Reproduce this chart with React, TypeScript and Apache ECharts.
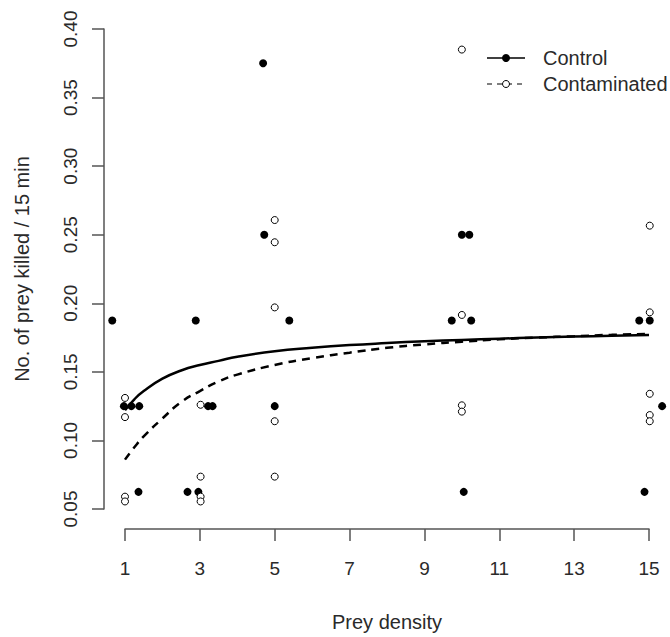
import React, { useEffect, useRef } from "react";
import * as echarts from "echarts";

// Scatter data
const controlX = [0.66, 0.97, 1.17, 1.38, 1.36, 2.67, 2.96, 2.89, 3.22, 3.34, 4.69, 4.72, 5.0, 5.39, 9.73, 10.0, 10.2, 10.25, 10.05, 14.74, 15.02, 15.35, 14.88];
const controlY = [0.1875, 0.125, 0.125, 0.125, 0.0625, 0.0625, 0.0625, 0.1875, 0.125, 0.125, 0.375, 0.25, 0.125, 0.1875, 0.1875, 0.25, 0.25, 0.1875, 0.0625, 0.1875, 0.1875, 0.125, 0.0625];

const contamX = [1.0, 1.0, 1.0, 1.0, 3.02, 3.02, 3.02, 3.02, 5.0, 5.0, 5.0, 5.0, 5.0, 10.0, 10.0, 10.0, 10.0, 15.02, 15.02, 15.02, 15.02, 15.02];
const contamY = [0.131, 0.117, 0.059, 0.0555, 0.126, 0.0736, 0.059, 0.0555, 0.2607, 0.2445, 0.197, 0.114, 0.0736, 0.385, 0.1915, 0.1256, 0.121, 0.2566, 0.1934, 0.134, 0.1185, 0.114];

// Fitted curves
const curveX = [1, 1.25, 1.5, 2, 2.5, 3, 3.5, 4, 5, 6, 7, 8, 9, 10, 11, 12, 13, 14, 15];
const controlCurve = [0.122, 0.13, 0.136, 0.145, 0.151, 0.155, 0.158, 0.161, 0.165, 0.1675, 0.1695, 0.171, 0.1723, 0.1733, 0.1742, 0.175, 0.1757, 0.1763, 0.1769];
const contamCurve = [0.086, 0.095, 0.103, 0.116, 0.128, 0.136, 0.143, 0.148, 0.155, 0.16, 0.164, 0.1675, 0.17, 0.172, 0.1737, 0.175, 0.176, 0.177, 0.1777];

const xTicks = { min: 1, max: 15, interval: 2 };
const yTicks = { min: 0.05, max: 0.4, interval: 0.05 };

const seriesNames = ["Control", "Contaminated"];
const yTitle = "No. of prey killed / 15 min";
const xTitle = "Prey density";

const FONT = "'Liberation Sans', Arial, sans-serif";
const TEXT = "#2a2a2a";
const AXIS = "#555";

export default function App() {
  const ref = useRef<HTMLDivElement>(null);
  useEffect(() => {
    document.body.style.margin = "0";
    const chart = echarts.init(ref.current!, null, { renderer: "svg" });
    const zip = (xs: number[], ys: number[]) => xs.map((x, i) => [x, ys[i]]);
    chart.setOption({
      animation: false,
      backgroundColor: "#fff",
      textStyle: { fontFamily: FONT },
      grid: { left: 125, right: 21, top: 29, bottom: 128 },
      xAxis: {
        type: "value",
        min: xTicks.min,
        max: xTicks.max,
        interval: xTicks.interval,
        offset: 20,
        axisLine: { show: true, lineStyle: { color: AXIS, width: 1.5 } },
        axisTick: { show: true, length: 12, lineStyle: { color: AXIS, width: 1.5 } },
        axisLabel: { margin: 30, fontSize: 19, color: TEXT, fontFamily: FONT },
        splitLine: { show: false },
        name: xTitle,
        nameLocation: "middle",
        nameGap: 83,
        nameTextStyle: { fontSize: 20, color: TEXT, fontFamily: FONT },
      },
      yAxis: {
        type: "value",
        min: yTicks.min,
        max: yTicks.max,
        interval: yTicks.interval,
        offset: 21,
        axisLine: { show: true, lineStyle: { color: AXIS, width: 1.5 } },
        axisTick: { show: true, length: 12, lineStyle: { color: AXIS, width: 1.5 } },
        axisLabel: {
          rotate: 90,
          margin: 24,
          fontSize: 19,
          color: TEXT,
          fontFamily: FONT,
          formatter: (v: number) => v.toFixed(2),
        },
        splitLine: { show: false },
        name: yTitle,
        nameLocation: "middle",
        nameGap: 72,
        nameTextStyle: { fontSize: 20, color: TEXT, fontFamily: FONT },
      },
      series: [
        {
          name: seriesNames[0] + " fit",
          type: "line",
          data: zip(curveX, controlCurve),
          smooth: true,
          showSymbol: false,
          lineStyle: { color: "#000", width: 2.5, type: "solid" },
          z: 2,
        },
        {
          name: seriesNames[1] + " fit",
          type: "line",
          data: zip(curveX, contamCurve),
          smooth: true,
          showSymbol: false,
          lineStyle: { color: "#000", width: 2.5, type: [8, 6] },
          z: 2,
        },
        {
          name: seriesNames[0],
          type: "scatter",
          data: zip(controlX, controlY),
          symbol: "circle",
          symbolSize: 8,
          clip: false,
          itemStyle: { color: "#000", opacity: 1 },
          z: 3,
        },
        {
          name: seriesNames[1],
          type: "scatter",
          data: zip(contamX, contamY),
          symbol: "circle",
          symbolSize: 7,
          clip: false,
          itemStyle: { color: "#fff", borderColor: "#000", borderWidth: 1, opacity: 1 },
          z: 4,
        },
      ],
      graphic: [
        { type: "line", shape: { x1: 487, y1: 58, x2: 525, y2: 58 }, style: { stroke: "#000", lineWidth: 1.5 } },
        { type: "circle", shape: { cx: 506, cy: 58, r: 4 }, style: { fill: "#000" } },
        { type: "text", x: 543, y: 58, style: { text: seriesNames[0], fontSize: 20, fill: TEXT, fontFamily: FONT, verticalAlign: "middle" } },
        { type: "line", shape: { x1: 487, y1: 84, x2: 525, y2: 84 }, style: { stroke: "#000", lineWidth: 1.2, lineDash: [5, 5] } },
        { type: "circle", shape: { cx: 506, cy: 84, r: 3.5 }, style: { fill: "#fff", stroke: "#000", lineWidth: 1 } },
        { type: "text", x: 543, y: 84, style: { text: seriesNames[1], fontSize: 20, fill: TEXT, fontFamily: FONT, verticalAlign: "middle" } },
      ],
    });
    return () => chart.dispose();
  }, []);
  return <div ref={ref} style={{ width: 670, height: 637 }} />;
}
